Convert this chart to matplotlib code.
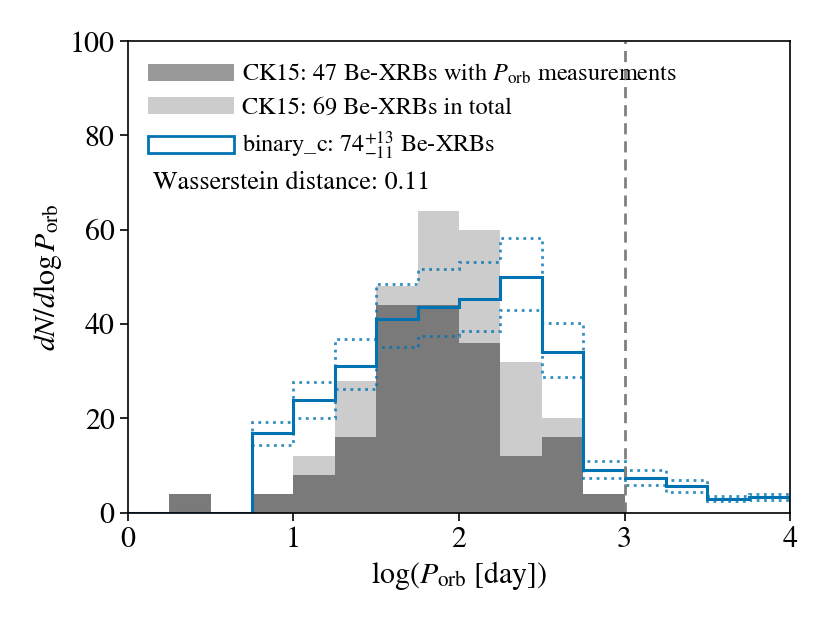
import numpy as np
import matplotlib
matplotlib.use("Agg")
import matplotlib.pyplot as plt
from matplotlib.patches import Patch

plt.rcParams["font.family"] = ["STIXGeneral", "DejaVu Serif"]
plt.rcParams["mathtext.fontset"] = "stix"

# bin edges in log(P_orb / day)
edges = np.arange(0, 4.01, 0.25)

# CK15 observed samples, dN/dlogP
ck15_measured = [0, 4, 0, 4, 8, 16, 44, 44, 36, 12, 16, 4, 0, 0, 0, 0]
ck15_total = [0, 4, 0, 4, 12, 28, 48, 64, 60, 32, 20, 4, 0, 0, 0, 0]

# binary_c model: median and spread
model_mid = [0, 0, 0, 16.8, 23.8, 31.1, 41.0, 43.6, 45.3, 49.9, 34.1, 9.0, 7.3, 5.6, 2.9, 3.3]
model_hi = [0, 0, 0, 19.2, 27.8, 36.9, 48.5, 51.6, 53.1, 58.2, 40.2, 11.0, 9.1, 6.9, 3.6, 4.0]
model_lo = [0, 0, 0, 14.4, 20.1, 26.2, 35.1, 37.5, 38.6, 42.9, 28.7, 7.3, 5.9, 4.5, 2.4, 2.8]

blue = "#0173b2"

fig = plt.figure(figsize=(8.3, 6.23), dpi=100)
ax = fig.add_axes([0.154, 0.177, 0.798, 0.757])

ax.bar(edges[:-1], ck15_total, width=0.25, align="edge", color="k",
       alpha=0.2, linewidth=0)
ax.bar(edges[:-1], ck15_measured, width=0.25, align="edge", color="k",
       alpha=0.4, linewidth=0)

ax.stairs(model_mid, edges, baseline=0, color=blue, linewidth=2.2)
ax.stairs(model_hi, edges, baseline=None, color=blue, linewidth=2,
          linestyle=":", alpha=0.8)
ax.stairs(model_lo, edges, baseline=None, color=blue, linewidth=2,
          linestyle=":", alpha=0.8)

ax.axvline(3, color="grey", linestyle=(0, (4, 2.5)), linewidth=2)

handles = [
    Patch(facecolor="k", alpha=0.4, linewidth=0),
    Patch(facecolor="k", alpha=0.2, linewidth=0),
    Patch(facecolor="white", edgecolor=blue, linewidth=2),
]
labels = [
    r"CK15: 47 Be-XRBs with $P_{\rm orb}$ measurements",
    "CK15: 69 Be-XRBs in total",
    r"binary_c: $74^{+13}_{-11}$ Be-XRBs",
]
ax.legend(handles, labels, loc="upper left", frameon=False, fontsize=17.5,
          handlelength=3.5, handleheight=0.7, handletextpad=0.35,
          borderaxespad=0.45, labelspacing=0.45)

ax.text(0.038, 0.70, "Wasserstein distance: 0.11", transform=ax.transAxes,
        fontsize=18.7, va="center", ha="left")

ax.set_xlim(0, 4)
ax.set_ylim(0, 100)
ax.set_xticks([0, 1, 2, 3, 4])
ax.set_yticks([0, 20, 40, 60, 80, 100])
ax.tick_params(labelsize=21.5, direction="out", length=6, width=1.2)
for s in ax.spines.values():
    s.set_linewidth(1.2)
ax.set_xlabel(r"$\log(P_{\rm orb}\ [{\rm day}])$", fontsize=21.5)
ax.set_ylabel(r"$dN/d\log P_{\rm orb}$", fontsize=21.5)

fig.savefig("out.png", dpi=100)
